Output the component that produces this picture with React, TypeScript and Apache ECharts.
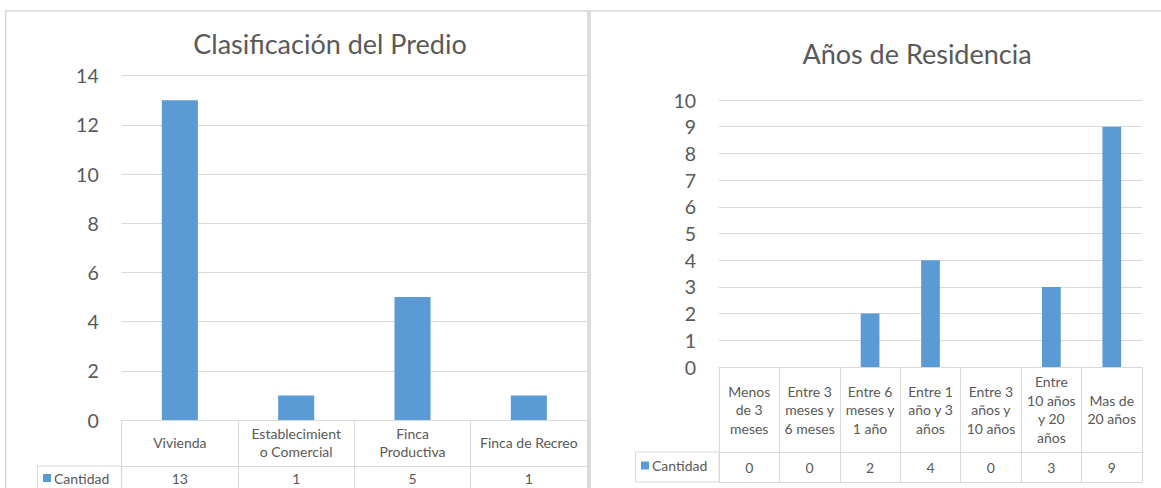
import React, { useEffect, useRef } from "react";
import * as echarts from "echarts";

// ---- Data ----
const leftTitle = "Clasificación del Predio";
const leftCategories = ["Vivienda", "Establecimient\no Comercial", "Finca\nProductiva", "Finca de Recreo"];
const leftValues = [13, 1, 5, 1];
const leftAxisMin = 0;
const leftAxisMax = 14;
const leftAxisStep = 2;

const rightTitle = "Años de Residencia";
const rightCategories = [
  "Menos\nde 3\nmeses",
  "Entre 3\nmeses y\n6 meses",
  "Entre 6\nmeses y\n1 año",
  "Entre 1\naño y 3\naños",
  "Entre 3\naños y\n10 años",
  "Entre\n10 años\ny 20\naños",
  "Mas de\n20 años",
];
const rightValues = [0, 0, 2, 4, 0, 3, 9];
const rightAxisMin = 0;
const rightAxisMax = 10;
const rightAxisStep = 1;

const seriesName = "Cantidad";

const FONT = "Lato, 'Noto Sans', sans-serif";
const TXT = "#595959";
const GRID = "#d9d9d9";
const BAR = "#5B9BD5";

export default function App() {
  const ref = useRef<HTMLDivElement>(null);

  useEffect(() => {
    if (!ref.current) return;
    document.body.style.margin = "0";
    const chart = echarts.init(ref.current, undefined, { renderer: "svg" });

    const headerAxis = (gridIndex: number, data: string[], tickLen: number, labelMid: number) => ({
      type: "category",
      gridIndex,
      data,
      position: "bottom",
      axisLine: { show: true, lineStyle: { color: GRID, width: 1 } },
      axisTick: { show: true, length: tickLen, interval: 0, lineStyle: { color: GRID } },
      axisLabel: {
        interval: 0,
        margin: labelMid,
        verticalAlign: "middle",
        color: TXT,
        fontFamily: FONT,
        fontSize: 14,
        lineHeight: 18.5,
      },
      splitLine: { show: false },
    });

    const valueRowAxis = (gridIndex: number, data: string[], values: number[], offset: number, tickLen: number, labelMid: number) => ({
      type: "category",
      gridIndex,
      data,
      position: "bottom",
      offset,
      axisLine: { show: true, lineStyle: { color: GRID, width: 1 } },
      axisTick: { show: true, length: tickLen, interval: 0, lineStyle: { color: GRID } },
      axisLabel: {
        interval: 0,
        margin: labelMid,
        verticalAlign: "middle",
        color: TXT,
        fontFamily: FONT,
        fontSize: 14,
        formatter: (_v: string, i: number) => String(values[i]),
      },
      splitLine: { show: false },
    });

    const bottomLineAxis = (gridIndex: number, data: string[], offset: number) => ({
      type: "category",
      gridIndex,
      data,
      position: "bottom",
      offset,
      axisLine: { show: true, lineStyle: { color: GRID, width: 1 } },
      axisTick: { show: false },
      axisLabel: { show: false },
      splitLine: { show: false },
    });

    const valueAxis = (gridIndex: number, min: number, max: number, interval: number) => ({
      type: "value",
      gridIndex,
      min,
      max,
      interval,
      axisLine: { show: false },
      axisTick: { show: false },
      axisLabel: { color: TXT, fontFamily: FONT, fontSize: 19.5, margin: 23 },
      splitLine: { show: true, lineStyle: { color: GRID, width: 1 } },
    });

    const legendCfg = (left: number, top: number) => ({
      data: [seriesName],
      left,
      top,
      padding: 0,
      itemWidth: 8,
      itemHeight: 8,
      icon: "rect",
      selectedMode: false,
      textStyle: { color: TXT, fontFamily: FONT, fontSize: 14, padding: [0, 0, 0, -2] },
    });

    const option: any = {
      animation: false,
      backgroundColor: "#ffffff",
      title: [
        {
          text: leftTitle,
          left: 325,
          top: 25,
          textAlign: "center",
          textStyle: { color: TXT, fontFamily: FONT, fontSize: 27, fontWeight: "normal" },
        },
        {
          text: rightTitle,
          left: 912,
          top: 35,
          textAlign: "center",
          textStyle: { color: TXT, fontFamily: FONT, fontSize: 27, fontWeight: "normal" },
        },
      ],
      legend: [legendCfg(43, 471), legendCfg(641, 458.5)],
      grid: [
        { left: 121.7, right: 1161 - 587, top: 75.7, bottom: 488 - 420 },
        { left: 719, right: 1161 - 1142, top: 100, bottom: 488 - 367 },
      ],
      xAxis: [
        headerAxis(0, leftCategories, 46, 22.5),
        valueRowAxis(0, leftCategories, leftValues, 46, 26, 12.5),
        headerAxis(1, rightCategories, 85, 42.5),
        valueRowAxis(1, rightCategories, rightValues, 85, 30, 15),
        bottomLineAxis(1, rightCategories, 115),
      ],
      yAxis: [
        valueAxis(0, leftAxisMin, leftAxisMax, leftAxisStep),
        valueAxis(1, rightAxisMin, rightAxisMax, rightAxisStep),
      ],
      series: [
        {
          name: seriesName,
          type: "bar",
          xAxisIndex: 0,
          yAxisIndex: 0,
          data: leftValues,
          barWidth: "31%",
          itemStyle: { color: BAR },
        },
        {
          name: seriesName,
          type: "bar",
          xAxisIndex: 2,
          yAxisIndex: 1,
          data: rightValues,
          barWidth: "31%",
          itemStyle: { color: BAR },
        },
      ],
      graphic: [
        { type: "line", shape: { x1: 5, y1: 11, x2: 1161, y2: 11 }, style: { stroke: GRID, lineWidth: 1.5 }, silent: true },
        { type: "line", shape: { x1: 5.75, y1: 10, x2: 5.75, y2: 488 }, style: { stroke: GRID, lineWidth: 1.5 }, silent: true },
        { type: "rect", shape: { x: 587, y: 10, width: 4, height: 478 }, style: { fill: "#dcdcdc" }, silent: true },
        { type: "rect", shape: { x: 37.5, y: 466, width: 84.2, height: 30 }, style: { fill: "none", stroke: GRID, lineWidth: 1 }, silent: true },
        { type: "rect", shape: { x: 635.5, y: 452, width: 83.5, height: 30 }, style: { fill: "none", stroke: GRID, lineWidth: 1 }, silent: true },
      ],
    };

    chart.setOption(option);
    return () => chart.dispose();
  }, []);

  return <div ref={ref} style={{ position: "fixed", left: 0, top: 0, width: 1161, height: 488 }} />;
}
